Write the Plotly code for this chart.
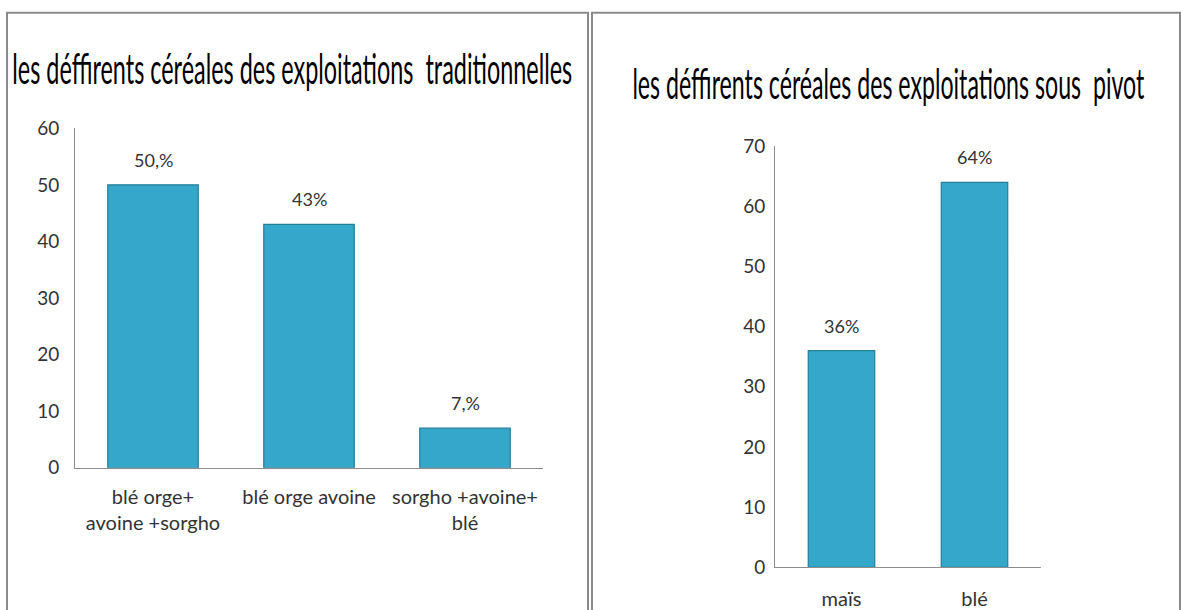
import plotly.graph_objects as go

W, H = 1181, 610

# Data
left_title = "les déffirents céréales des exploitations  traditionnelles"
left_categories = ["blé orge+<br>avoine +sorgho", "blé orge avoine", "sorgho +avoine+<br>blé"]
left_values = [50, 43, 7]
left_labels = ["50,%", "43%", "7,%"]
left_ticks = [0, 10, 20, 30, 40, 50, 60]

right_title = "les déffirents céréales des exploitations sous  pivot"
right_categories = ["maïs", "blé"]
right_values = [36, 64]
right_labels = ["36%", "64%"]
right_ticks = [0, 10, 20, 30, 40, 50, 60, 70]

BAR = "#34a7cb"
EDGE = "#267d97"
TXT = "#333333"
TFONT = "Lato, Open Sans, sans-serif"
HFONT = "Lato, Roboto, sans-serif"

# vertical calibration of the photographed page (observed: y_photo = 10.2 + 0.965 * y_page)
VA, VB = 10.2, 0.965


def px(x):
    return x / W


def py(y):
    yi = (y - VA) / VB
    return 1 - yi / H


fig = go.Figure()
fig.add_trace(go.Bar(
    x=left_categories, y=left_values, width=0.58,
    marker=dict(color=BAR, line=dict(color=EDGE, width=1.2)),
    xaxis="x", yaxis="y", showlegend=False, hoverinfo="skip"))
fig.add_trace(go.Bar(
    x=right_categories, y=right_values, width=0.5,
    marker=dict(color=BAR, line=dict(color=EDGE, width=1.2)),
    xaxis="x2", yaxis="y2", showlegend=False, hoverinfo="skip"))

annotations = [
    dict(text=left_title, x=px(292), y=py(66), xref="paper", yref="paper",
         showarrow=False, xanchor="center", yanchor="middle",
         font=dict(size=42, color="black", family=HFONT)),
    dict(text=right_title, x=px(889), y=py(82), xref="paper", yref="paper",
         showarrow=False, xanchor="center", yanchor="middle",
         font=dict(size=42, color="black", family=HFONT)),
]
for c, v, t in zip(left_categories, left_values, left_labels):
    annotations.append(dict(text=t, x=c, y=v, xref="x", yref="y", showarrow=False,
                            yanchor="bottom", yshift=12,
                            font=dict(size=18, color=TXT, family=TFONT)))
for c, v, t in zip(right_categories, right_values, right_labels):
    annotations.append(dict(text=t, x=c, y=v, xref="x2", yref="y2", showarrow=False,
                            yanchor="bottom", yshift=12,
                            font=dict(size=18, color=TXT, family=TFONT)))

axis_common = dict(showgrid=False, zeroline=False, showline=True, linecolor="#8c8c8c",
                   linewidth=1, ticks="", tickfont=dict(size=19, color=TXT, family=TFONT),
                   fixedrange=True)
cat_font = dict(size=20, color=TXT, family=TFONT)

fig.update_layout(
    width=W, height=H, margin=dict(l=0, r=0, t=0, b=0),
    paper_bgcolor="white", plot_bgcolor="white",
    xaxis=dict(domain=[px(75), px(543)], anchor="y", ticklabelstandoff=11,
               **{**axis_common, "tickfont": cat_font}),
    yaxis=dict(domain=[py(468), py(127)], range=[0, 60], tickvals=left_ticks,
               anchor="x", ticklabelstandoff=11, **axis_common),
    xaxis2=dict(domain=[px(775), px(1041)], anchor="y2", ticklabelstandoff=14,
                **{**axis_common, "tickfont": cat_font}),
    yaxis2=dict(domain=[py(568), py(145)], range=[0, 70], tickvals=right_ticks,
                anchor="x2", ticklabelstandoff=5, **axis_common),
    annotations=annotations,
    shapes=[
        dict(type="rect", xref="paper", yref="paper", x0=px(7), x1=px(588),
             y0=-0.1, y1=py(11), line=dict(color="#8a8a8a", width=2)),
        dict(type="rect", xref="paper", yref="paper", x0=px(592), x1=px(1180),
             y0=-0.1, y1=py(11), line=dict(color="#8a8a8a", width=2)),
    ],
)

# condense the two titles horizontally (the reference uses a narrow face)
post = """
var gd = document.getElementById('{plot_id}');
gd.querySelectorAll('g.annotation').forEach(function(g){
  var t = g.querySelector('text.annotation-text');
  if (!t) return;
  var s = t.textContent, L = 0;
  if (s.indexOf('traditionnelles') >= 0) L = 560;
  else if (s.indexOf('pivot') >= 0) L = 512;
  if (!L) return;
  var bb = t.getBBox();
  var k = L / bb.width;
  var cx = bb.x + bb.width / 2;
  var prev = t.getAttribute('transform') || '';
  t.setAttribute('transform', prev + ' translate(' + cx + ',0) scale(' + k + ',1) translate(' + (-cx) + ',0)');
  g.querySelectorAll('rect').forEach(function(r){
    var x = parseFloat(r.getAttribute('x') || 0), w = parseFloat(r.getAttribute('width') || 0);
    if (w > L) { r.setAttribute('x', String(x + (w - L) / 2)); r.setAttribute('width', String(L)); }
  });
});
"""

fig.write_html("out.html", post_script=post)
